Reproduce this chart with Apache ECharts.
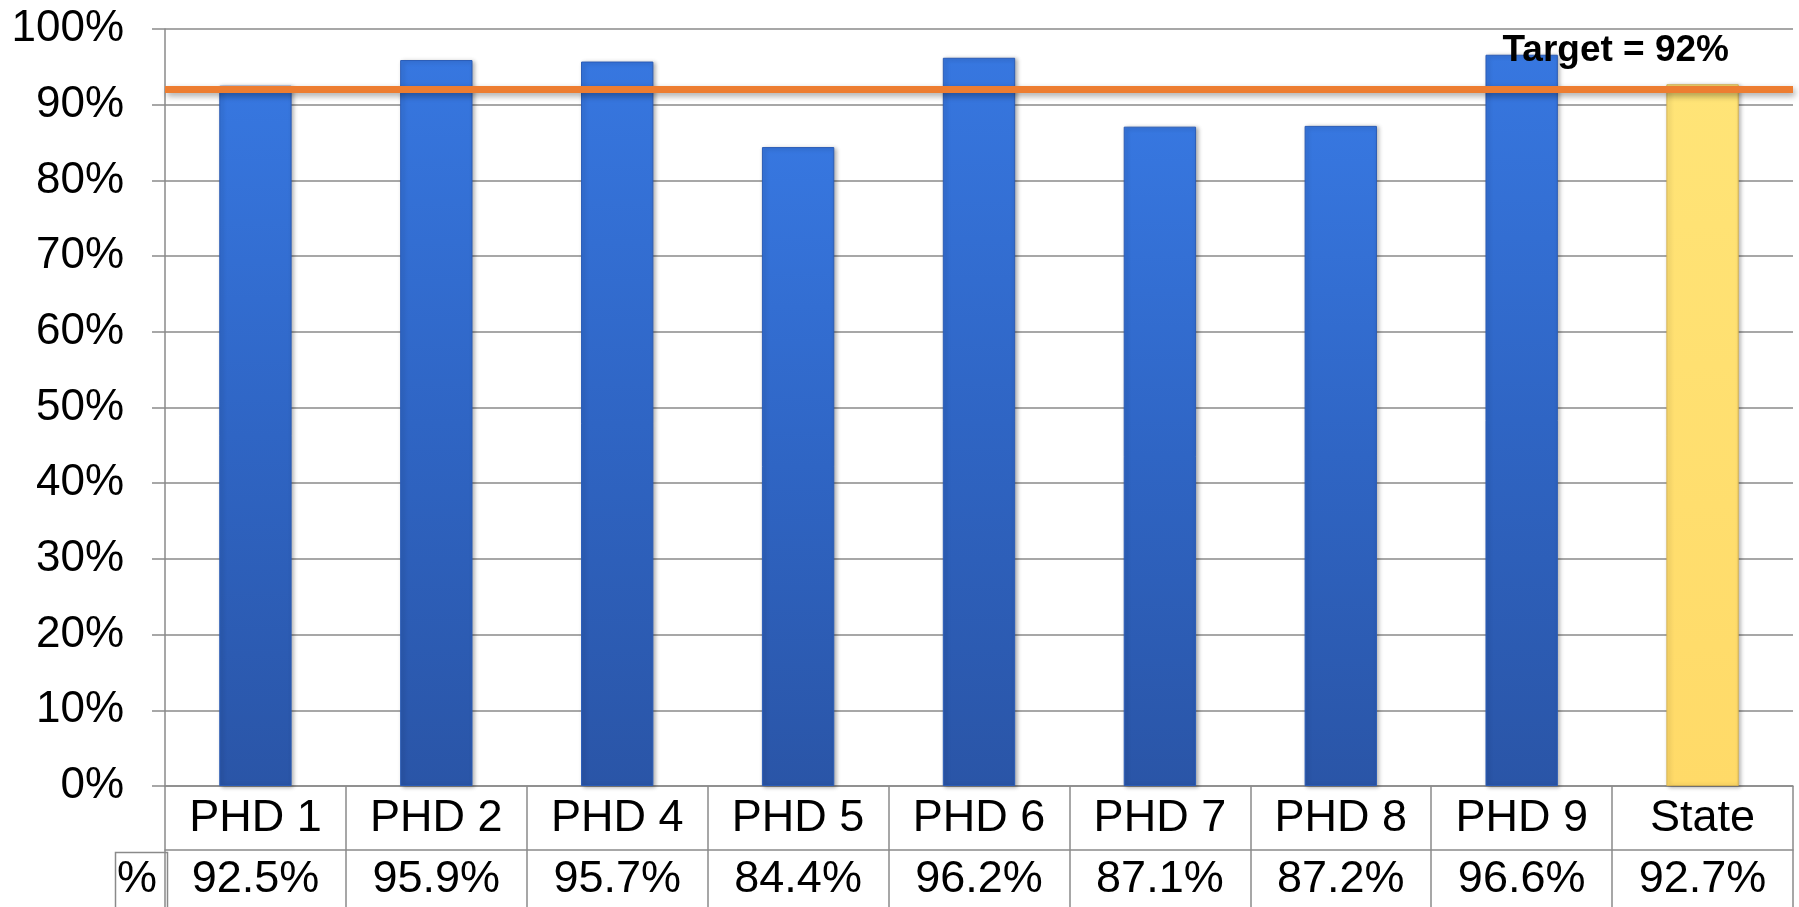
<!DOCTYPE html>
<html><head><meta charset="utf-8">
<script src="https://cdn.jsdelivr.net/npm/echarts@6/dist/echarts.min.js"></script>
<style>html,body{margin:0;padding:0;background:#fff}#c{width:1799px;height:907px}</style>
</head><body><div id="c"></div>
<script>
const categories = ['PHD 1', 'PHD 2', 'PHD 4', 'PHD 5', 'PHD 6', 'PHD 7', 'PHD 8', 'PHD 9', 'State'];
const values = [92.5, 95.9, 95.7, 84.4, 96.2, 87.1, 87.2, 96.6, 92.7];
const highlightCategory = 'State';
const targetValue = 92;
const targetLabel = 'Target = 92%';
const yMin = 0, yMax = 100, yInterval = 10;
const tableRowLabel = '%';

const FONT = '"Liberation Sans", Arial, Helvetica, sans-serif';
const GRAY = '#8a8a8a';

const blueFill = new echarts.graphic.LinearGradient(0, 0, 0, 1, [
  { offset: 0, color: '#3777e0' },
  { offset: 0.5, color: '#2f65c4' },
  { offset: 1, color: '#2a55a7' }
]);
const yellowFill = new echarts.graphic.LinearGradient(0, 0, 0, 1, [
  { offset: 0, color: '#ffe477' },
  { offset: 1, color: '#ffda68' }
]);

const barData = values.map((v, i) => categories[i] === highlightCategory
  ? { value: v, itemStyle: { color: yellowFill, borderColor: '#d6b352' } }
  : v);

const chart = echarts.init(document.getElementById('c'), null, { renderer: 'canvas' });
chart.setOption({
  animation: false,
  backgroundColor: '#ffffff',
  grid: { left: 165, right: 6, top: 29, bottom: 121, containLabel: false },
  xAxis: [
    {
      type: 'category',
      data: categories,
      position: 'bottom',
      axisLine: { show: true, lineStyle: { color: GRAY, width: 1.5 } },
      axisTick: { show: true, interval: 0, length: 125, lineStyle: { color: GRAY, width: 1.5 } },
      axisLabel: { interval: 0, margin: 10, color: '#000', fontSize: 45, lineHeight: 45, fontFamily: FONT },
      splitLine: { show: false }
    },
    {
      type: 'category',
      data: categories,
      position: 'bottom',
      offset: 64,
      axisLine: { show: true, lineStyle: { color: GRAY, width: 1.5 } },
      axisTick: { show: false },
      axisLabel: {
        interval: 0, margin: 7, color: '#000', fontSize: 45, lineHeight: 45, fontFamily: FONT,
        formatter: (v, i) => values[i].toFixed(1) + '%'
      },
      splitLine: { show: false }
    }
  ],
  yAxis: {
    type: 'value',
    min: yMin, max: yMax, interval: yInterval,
    axisLine: { show: true, lineStyle: { color: GRAY, width: 1.5 } },
    axisTick: { show: true, length: 13, lineStyle: { color: GRAY, width: 1.5 } },
    axisLabel: { margin: 41, color: '#000', fontSize: 44, fontFamily: FONT, formatter: '{value}%' },
    splitLine: { show: true, lineStyle: { color: GRAY, width: 1.5 } }
  },
  graphic: [
    {
      type: 'rect', left: 113, top: 850, z: 10,
      shape: { width: 52, height: 80 },
      style: { fill: 'none', stroke: GRAY, lineWidth: 1.5 }
    },
    {
      type: 'text', left: 117, top: 857, z: 10,
      style: { text: tableRowLabel, fill: '#000', font: '45px ' + FONT }
    }
  ],
  series: [
    {
      type: 'bar',
      xAxisIndex: 0,
      data: barData,
      barWidth: '40%',
      itemStyle: {
        color: blueFill,
        borderColor: '#2b5cb6',
        borderWidth: 1,
        shadowColor: 'rgba(0,0,0,0.3)',
        shadowBlur: 4,
        shadowOffsetX: 2,
        shadowOffsetY: 1
      },
      markLine: {
        silent: true,
        symbol: 'none',
        lineStyle: {
          color: '#ed7d31', width: 7, type: 'solid',
          shadowColor: 'rgba(0,0,0,0.35)', shadowBlur: 6, shadowOffsetX: 2, shadowOffsetY: 3
        },
        label: {
          show: true,
          position: 'insideEndTop',
          formatter: targetLabel,
          color: '#000',
          fontWeight: 'bold',
          fontSize: 37,
          lineHeight: 37,
          fontFamily: FONT,
          distance: 0,
          padding: [0, 64, 20, 0]
        },
        data: [{ yAxis: targetValue }]
      }
    }
  ]
});
</script>
</body></html>
